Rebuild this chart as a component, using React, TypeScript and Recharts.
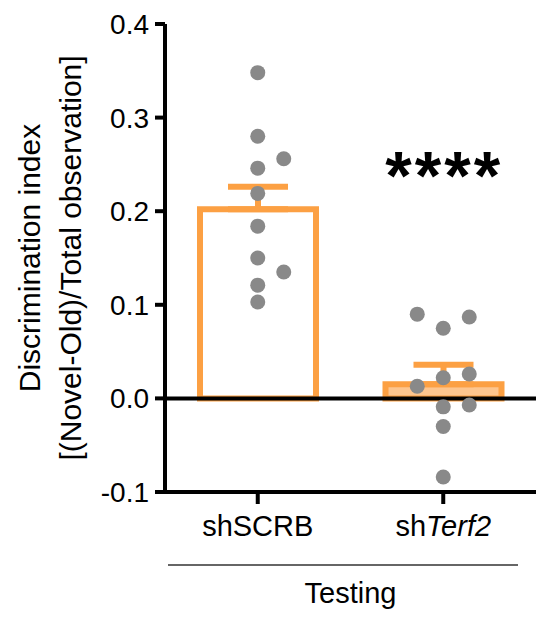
import {
  Bar,
  Cell,
  ComposedChart,
  ErrorBar,
  ReferenceDot,
  ReferenceLine,
  Scatter,
  XAxis,
  YAxis,
} from "recharts"

const groups = ["shSCRB", "shTerf2"]
const italicParts = ["", "Terf2"]
const means = [0.202, 0.015]
const sems = [0.024, 0.021]
const significance = ["", "****"]
const significanceY = 0.213

const scrbValues = [0.348, 0.28, 0.256, 0.246, 0.219, 0.184, 0.15, 0.135, 0.121, 0.103]
const scrbSides = [0, 0, 1, 0, 0, 0, 0, 1, 0, 0]
const terf2Values = [0.09, 0.075, 0.087, 0.026, 0.022, 0.013, -0.009, -0.007, -0.03, -0.084]
const terf2Sides = [-1, 0, 1, 1, 0, -1, 0, 1, 0, 0]

const yTicks = [-0.1, 0, 0.1, 0.2, 0.3, 0.4]

const ORANGE = "#FCA043"
const LIGHT_ORANGE = "#FDC58E"
const GREY = "#898989"
const FONT = "'Liberation Sans', Arial, sans-serif"

const barData = groups.map((group, i) => ({
  group,
  mean: means[i],
  err: [0, sems[i]],
}))

const dots = [
  ...scrbValues.map((value, i) => ({ group: groups[0], value, side: scrbSides[i] })),
  ...terf2Values.map((value, i) => ({ group: groups[1], value, side: terf2Sides[i] })),
]

// side = -1 / 0 / 1 spreads overlapping points left or right of the group centre
const Dot = (props: any) => {
  const { cx, cy, payload } = props
  if (cx == null || cy == null) return null
  return <circle cx={cx + payload.side * 26} cy={cy} r={7.5} fill={GREY} />
}

const XTick = (props: any) => {
  const { x, y, payload } = props
  const i = groups.indexOf(payload.value)
  const italic = italicParts[i] || ""
  const plain = italic ? payload.value.slice(0, payload.value.length - italic.length) : payload.value
  return (
    <text x={x} y={y + 30} textAnchor="middle" fontSize={29} fill="#000" fontFamily={FONT}>
      {plain}
      {italic && <tspan fontStyle="italic">{italic}</tspan>}
    </text>
  )
}

const XLabel = (props: any) => {
  const { x, y, width } = props.viewBox
  return (
    <g>
      <line x1={x + 3} x2={x + width - 18} y1={y + 73} y2={y + 73} stroke="#333" strokeWidth={1.5} />
      <text x={x + width / 2} y={y + 111} textAnchor="middle" fontSize={29} fill="#000" fontFamily={FONT}>
        Testing
      </text>
    </g>
  )
}

const YLabel = (props: any) => {
  const { y, height } = props.viewBox
  const cy = y + height / 2
  return (
    <g fontFamily={FONT} fontSize={30} fill="#000">
      <text transform={`translate(40, ${cy}) rotate(-90)`} textAnchor="middle">
        Discrimination index
      </text>
      <text transform={`translate(81, ${cy}) rotate(-90)`} textAnchor="middle">
        [(Novel-Old)/Total observation]
      </text>
    </g>
  )
}

const Stars = (props: any) => {
  const { cx, cy } = props
  return (
    <text
      x={cx + 1}
      y={cy}
      textAnchor="middle"
      fontSize={68}
      letterSpacing={3}
      fontWeight="bold"
      fill="#000"
      fontFamily={FONT}
    >
      {significance[1]}
    </text>
  )
}

export default function App() {
  return (
    <div style={{ position: "absolute", left: 0, top: 0, background: "#fff" }}>
      <ComposedChart
        width={536}
        height={620}
        data={barData}
        margin={{ top: 24, right: 0, bottom: 0, left: 0 }}
      >
        <XAxis
          dataKey="group"
          allowDuplicatedCategory={false}
          height={128}
          axisLine={{ stroke: "#000", strokeWidth: 4 }}
          tickLine={{ stroke: "#000", strokeWidth: 4 }}
          tickSize={12}
          tick={<XTick />}
          interval={0}
          label={<XLabel />}
        />
        <YAxis
          type="number"
          domain={[-0.1, 0.4]}
          ticks={yTicks}
          width={165}
          allowDataOverflow
          axisLine={{ stroke: "#000", strokeWidth: 4 }}
          tickLine={{ stroke: "#000", strokeWidth: 4 }}
          tickSize={10}
          tickMargin={6}
          tick={{ fontSize: 28, fill: "#000", fontFamily: FONT }}
          tickFormatter={(v: number) => v.toFixed(1)}
          label={<YLabel />}
        />
        <Bar dataKey="mean" barSize={116} stroke={ORANGE} strokeWidth={6} isAnimationActive={false}>
          {barData.map((d, i) => (
            <Cell key={d.group} fill={i === 0 ? "#fff" : LIGHT_ORANGE} />
          ))}
          <ErrorBar dataKey="err" width={30} stroke={ORANGE} strokeWidth={6} />
        </Bar>
        <ReferenceLine y={0} stroke="#000" strokeWidth={4} />
        <Scatter data={dots} dataKey="value" shape={<Dot />} isAnimationActive={false} />
        <ReferenceDot x={groups[1]} y={significanceY} r={0} shape={<Stars />} />
      </ComposedChart>
    </div>
  )
}
